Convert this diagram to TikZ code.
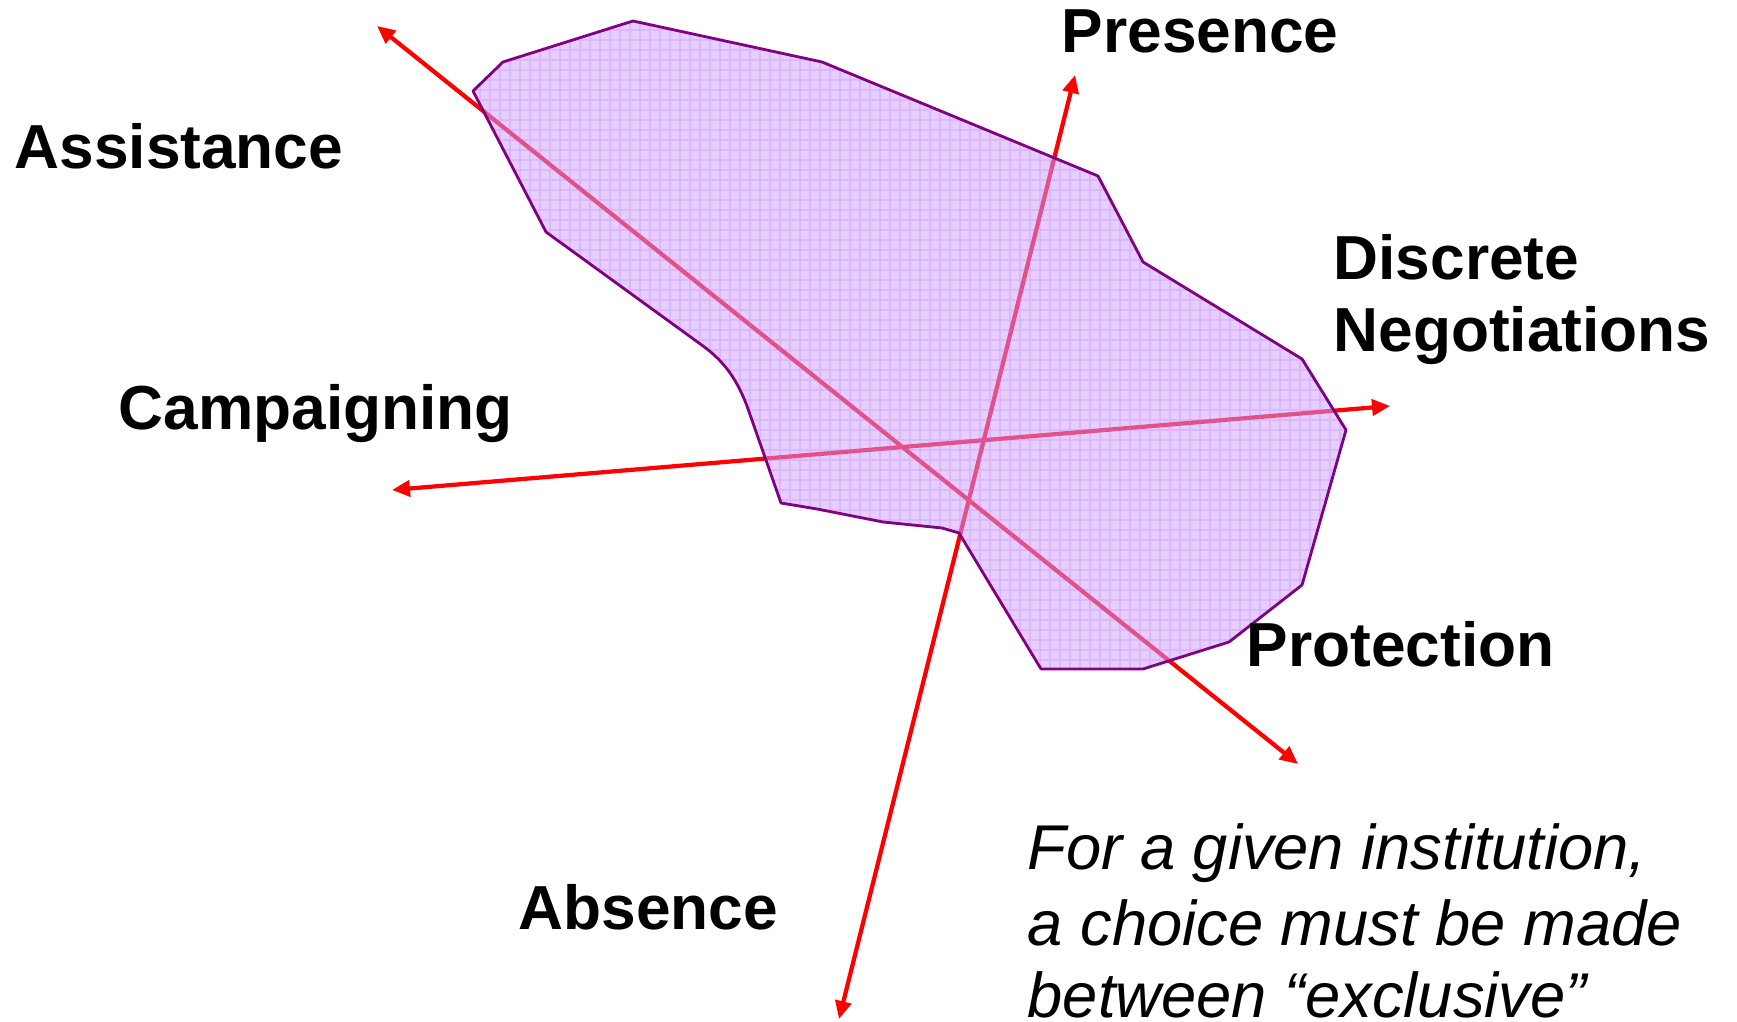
\documentclass[tikz,border=0pt]{standalone}
\usepackage{fontspec}
\setmainfont{Liberation Sans}
\usetikzlibrary{arrows.meta}
\definecolor{axisred}{RGB}{255,0,0}
\definecolor{blobfill}{RGB}{205,160,255}
\definecolor{blobgrid}{RGB}{185,110,255}
\definecolor{blobline}{RGB}{128,0,128}
\begin{document}
\begin{tikzpicture}[x=0.1mm,y=-0.1mm,
  axis/.style={draw=axisred,line width=1.2pt,
    {Triangle[length=1.8mm,width=1.6mm]}-{Triangle[length=1.8mm,width=1.6mm]}},
  lab/.style={anchor=base west,inner sep=0pt,font=\fontsize{17.7}{21}\selectfont\bfseries},
  note/.style={anchor=base west,inner sep=0pt,font=\fontsize{18}{21}\selectfont\itshape}]
  \useasboundingbox (0,0) rectangle (1737,1022);
  \clip (0,0) rectangle (1737,1022);
  % axis ends
  \coordinate (assistTip) at (377,26);
  \coordinate (protectTip) at (1298,764);
  \coordinate (presenceTip) at (1075,75);
  \coordinate (absenceTip) at (839,1019);
  \coordinate (campaignTip) at (392,490);
  \coordinate (negotTip) at (1390,406);
  \draw[axis] (assistTip)--(protectTip);
  \draw[axis] (presenceTip)--(absenceTip);
  \draw[axis] (campaignTip)--(negotTip);

  % the region
  \path[save path=\blobpath] (633,21)--(822,62)--(1098,176)--(1143,262)--(1302,359)
    --(1346,430)--(1302,585)--(1229,642)--(1143,669)--(1041,669)--(959,533)
    --(942,528)--(883,522)--(817,509)--(781,503)--(747,406)
    .. controls (737,380) and (725,362) .. (703,346)
    --(546,232)--(473,91)--(503,62)--cycle;
  \fill[blobfill,fill opacity=0.5,use path=\blobpath];
  \begin{scope}
    \clip[use path=\blobpath];
    \draw[blobgrid,opacity=0.25,line width=0.3pt,step=1mm] (400,0) grid (1400,700);
  \end{scope}
  \draw[blobline,line width=0.8pt,line join=round,use path=\blobpath];

  \node[lab] (presence) at (1061,53) {Presence};
  \node[lab] (assistance) at (14,169) {Assistance};
  \node[lab] (discrete) at (1333,280) {Discrete};
  \node[lab] (negotiations) at (1333,352) {Negotiations};
  \node[lab] (campaigning) at (118,430) {Campaigning};
  \node[lab] (protection) at (1246,667) {Protection};
  \node[lab] (absence) at (518,929) {Absence};
  \node[note] (note1) at (1027,869) {For a given institution,};
  \node[note] (note2) at (1027,945) {a choice must be made};
  \node[note] (note3) at (1027,1017) {between “exclusive”};
\end{tikzpicture}
\end{document}
